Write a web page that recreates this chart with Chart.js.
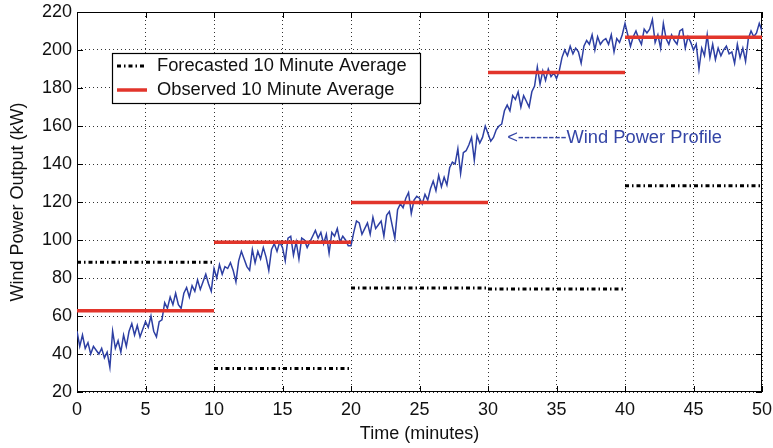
<!DOCTYPE html>
<html>
<head>
<meta charset="utf-8">
<script src="https://cdn.jsdelivr.net/npm/chart.js@4.4.0/dist/chart.umd.min.js"></script>
<style>
    html, body { margin: 0; padding: 0; background: #fff; }
</style>
</head>
<body>
<canvas id="windPowerChart" width="773" height="448"></canvas>
<script>
// 10 minute blocks
const segStarts = [0, 10, 20, 30, 40];
const segEnds = [10, 20, 30, 40, 50];
const forecastAvg = [88.3, 32.4, 74.7, 74.2, 128.5];
const observedAvg = [62.7, 98.8, 119.8, 188.2, 206.7];

const xTicks = [0, 5, 10, 15, 20, 25, 30, 35, 40, 45, 50];
const yTicks = [20, 40, 60, 80, 100, 120, 140, 160, 180, 200, 220];

// wind power profile, one reading every 0.2 minutes (kW)
const sampleStep = 0.2;
const windPower = [
    52, 44, 50, 43, 46, 40, 44, 42, 40, 43,
    38, 41, 33, 52, 43, 47, 41, 50, 44, 52,
    56, 50, 55, 49, 53, 57, 54, 60, 52, 49,
    57, 58, 67, 64, 70, 66, 72, 66, 64, 72,
    75, 70, 76, 73, 79, 74, 78, 82, 77, 73,
    85, 80, 87, 82, 86, 85, 88, 84, 78, 89,
    94, 90, 86,
    84, 95, 88, 94, 90, 96, 91, 84, 95, 98,
    94, 99, 96, 89, 101, 102, 92, 99, 90, 101,
    100, 96, 99, 102, 105, 101, 104, 98, 103, 93,
    104, 102, 106, 99, 102, 100, 97, 97, 104, 110,
    109, 103, 106, 109, 103, 112, 106, 108, 110, 102,
    113, 115, 108, 101, 116, 119, 117, 122, 125, 114,
    121, 123,
    122, 119, 124, 121, 127, 131, 126, 134, 128, 133,
    129, 138, 141, 140, 148, 135, 146, 147, 150, 154,
    142, 155, 151, 154, 160, 156, 152, 154, 158, 160,
    161, 168, 171, 168, 176, 174, 178, 170, 176, 173,
    170, 178, 181, 191, 182, 189, 184, 190, 186, 188,
    185, 189, 196, 200, 197, 202, 198, 201, 199, 193,
    202, 205,
    203, 208, 200, 207, 203, 205, 206, 203, 208, 199,
    206, 204, 208, 214, 208, 202, 207, 210, 206, 203,
    211, 209, 211, 216, 204, 208, 201, 214, 206, 203,
    208, 205, 203, 210, 211, 201, 207, 204, 200, 203,
    190, 201, 197, 208, 196, 203, 195, 201, 197, 200,
    202, 198, 199, 193, 203, 196, 201, 194, 206, 210,
    207, 209, 214, 210
];

const fontFamily = '"Liberation Sans", Arial, Helvetica, sans-serif';
const blue = '#2d3fa3';
const red = '#e2352b';

function stepData(levels) {
    const pts = [];
    levels.forEach((v, i) => {
        pts.push({ x: segStarts[i], y: v }, { x: segEnds[i], y: v }, { x: segEnds[i], y: null });
    });
    return pts;
}

const profileData = windPower.map((v, i) => ({ x: Math.round(i * sampleStep * 10) / 10, y: v }));

// drop the label overflow padding so layout.padding decides the plot box
function noOverflow(scale) {
    scale.paddingTop = 0;
    scale.paddingBottom = 0;
    scale.paddingLeft = 0;
    scale.paddingRight = 0;
}

// box around the plot with inward ticks, like the original figure
const framePlugin = {
    id: 'frame',
    beforeDatasetsDraw(chart) {
        const { ctx, chartArea: a, scales } = chart;
        ctx.save();
        ctx.strokeStyle = '#000';
        ctx.lineWidth = 1;
        ctx.setLineDash([]);
        ctx.strokeRect(a.left + 0.5, a.top + 0.5, a.right - a.left - 1, a.bottom - a.top - 1);
        ctx.beginPath();
        xTicks.forEach(t => {
            const px = Math.round(scales.x.getPixelForValue(t)) + 0.5;
            ctx.moveTo(px, a.bottom); ctx.lineTo(px, a.bottom - 6);
            ctx.moveTo(px, a.top); ctx.lineTo(px, a.top + 6);
        });
        yTicks.forEach(t => {
            const py = Math.round(scales.y.getPixelForValue(t)) + 0.5;
            ctx.moveTo(a.left, py); ctx.lineTo(a.left + 6, py);
            ctx.moveTo(a.right, py); ctx.lineTo(a.right - 6, py);
        });
        ctx.stroke();
        ctx.restore();
    },
    afterDatasetsDraw(chart) {
        const { ctx, scales } = chart;
        ctx.save();
        // legend box
        ctx.fillStyle = '#fff';
        ctx.fillRect(112, 53, 308, 50);
        ctx.strokeStyle = '#000';
        ctx.lineWidth = 1.2;
        ctx.strokeRect(112.5, 53.5, 308, 50);

        ctx.lineWidth = 3;
        ctx.setLineDash([4, 3, 1.5, 3]);
        ctx.beginPath(); ctx.moveTo(117, 66); ctx.lineTo(147, 66); ctx.stroke();
        ctx.setLineDash([]);
        ctx.strokeStyle = red;
        ctx.lineWidth = 3.5;
        ctx.beginPath(); ctx.moveTo(117, 90); ctx.lineTo(147, 90); ctx.stroke();

        ctx.fillStyle = '#111';
        ctx.font = '18.3px ' + fontFamily;
        ctx.textBaseline = 'middle';
        ctx.textAlign = 'left';
        ctx.fillText('Forecasted 10 Minute Average', 157, 66);
        ctx.fillText('Observed 10 Minute Average', 157, 90);

        // annotation
        ctx.fillStyle = '#3445a6';
        ctx.fillText('<--------Wind Power Profile', scales.x.getPixelForValue(31.4), scales.y.getPixelForValue(153.5));
        ctx.restore();
    }
};

const ctxWind = document.getElementById('windPowerChart').getContext('2d');
const windPowerChart = new Chart(ctxWind, {
    type: 'line',
    data: {
        datasets: [
            {
                label: 'Forecasted 10 Minute Average',
                data: stepData(forecastAvg),
                borderColor: '#000',
                borderWidth: 3,
                borderDash: [4, 3, 1.5, 3],
                pointRadius: 0,
                spanGaps: false
            },
            {
                label: 'Observed 10 Minute Average',
                data: stepData(observedAvg),
                borderColor: red,
                borderWidth: 3.5,
                pointRadius: 0,
                spanGaps: false
            },
            {
                label: 'Wind Power Profile',
                data: profileData,
                borderColor: blue,
                borderWidth: 1.5,
                pointRadius: 0,
                tension: 0
            }
        ]
    },
    options: {
        responsive: false,
        animation: false,
        devicePixelRatio: 1,
        layout: {
            padding: { top: 12, right: 11, left: 0, bottom: 0 }
        },
        scales: {
            x: {
                type: 'linear',
                min: 0,
                max: 50,
                afterBuildTicks: scale => { scale.ticks = xTicks.map(v => ({ value: v })); },
                afterFit: scale => { scale.height = 56; noOverflow(scale); },
                ticks: {
                    color: '#111',
                    padding: 7,
                    font: { family: fontFamily, size: 18 }
                },
                grid: { color: '#333', lineWidth: 1, drawTicks: false },
                border: { display: false, dash: [1, 3] },
                title: {
                    display: true,
                    text: 'Time (minutes)',
                    color: '#111',
                    padding: { top: 0, bottom: 3 },
                    font: { family: fontFamily, size: 18 }
                }
            },
            y: {
                type: 'linear',
                min: 20,
                max: 220,
                afterBuildTicks: scale => { scale.ticks = yTicks.map(v => ({ value: v })); },
                afterFit: scale => { scale.width = 77; noOverflow(scale); },
                ticks: {
                    color: '#111',
                    padding: 5,
                    font: { family: fontFamily, size: 18 }
                },
                grid: { color: '#333', lineWidth: 1, drawTicks: false },
                border: { display: false, dash: [1, 3] },
                title: {
                    display: true,
                    text: 'Wind Power Output (kW)',
                    color: '#111',
                    padding: { top: 7, bottom: 0 },
                    font: { family: fontFamily, size: 18 }
                }
            }
        },
        plugins: {
            legend: { display: false },
            tooltip: { enabled: false }
        }
    },
    plugins: [framePlugin]
});
</script>
</body>
</html>
